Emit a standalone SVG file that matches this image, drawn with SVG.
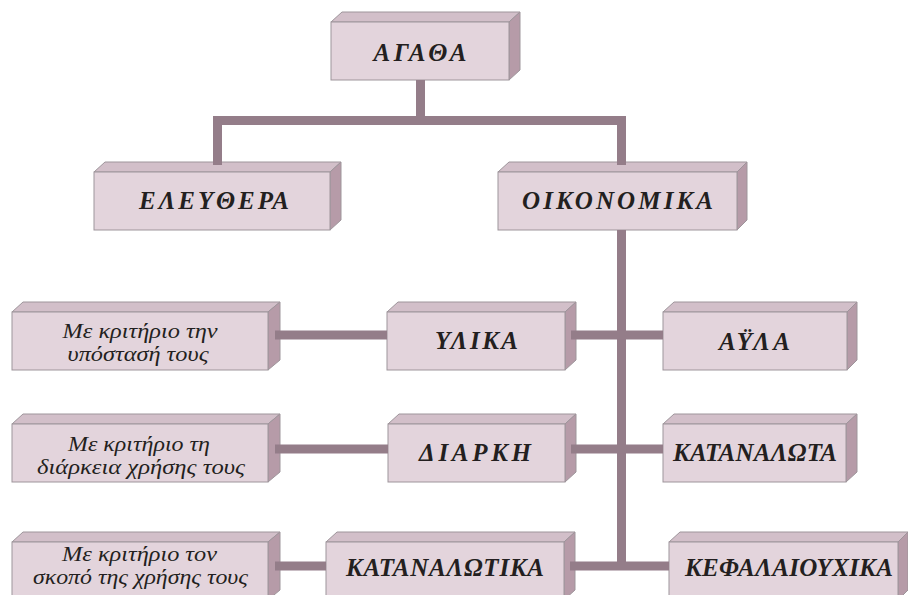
<svg xmlns="http://www.w3.org/2000/svg" width="908" height="595" viewBox="0 0 908 595">
<style>
.front{fill:#e3d4dc;stroke:#9e959b;stroke-width:1}
.top{fill:#d2bfc9;stroke:#9e959b;stroke-width:1}
.side{fill:#b69ba8;stroke:#9e959b;stroke-width:1}
.big{font-family:"Liberation Serif","DejaVu Serif",serif;font-size:25px;font-weight:bold;font-style:italic;fill:#231f20;text-anchor:middle}
.sm{font-family:"Liberation Serif","DejaVu Serif",serif;font-size:20.5px;font-style:italic;fill:#231f20;text-anchor:middle}
.conn{fill:none;stroke:#947d89;stroke-width:9;stroke-linecap:butt;stroke-linejoin:miter}
</style>
<rect width="908" height="595" fill="#ffffff"/>

<g id="agatha">
<polygon class="top" points="331,22 342,12 520,12 509,22"/>
<polygon class="side" points="509,22 520,12 520,70 509,80"/>
<rect class="front" x="331" y="22" width="178" height="58"/>
<text class="big" x="420" y="61" textLength="93" lengthAdjust="spacing">ΑΓΑΘΑ</text>
</g>

<g id="eleuthera">
<polygon class="top" points="94,172 105,162 341,162 330,172"/>
<polygon class="side" points="330,172 341,162 341,220 330,230"/>
<rect class="front" x="94" y="172" width="236" height="58"/>
<text class="big" x="214" y="209" textLength="150" lengthAdjust="spacing">ΕΛΕΥΘΕΡΑ</text>
</g>

<g id="oikonomika">
<polygon class="top" points="498,172 509,162 747,162 737,172"/>
<polygon class="side" points="737,172 747,162 747,220 737,230"/>
<rect class="front" x="498" y="172" width="239" height="58"/>
<text class="big" x="617.5" y="209" textLength="191" lengthAdjust="spacing">ΟΙΚΟΝΟΜΙΚΑ</text>
</g>

<g id="ypostasi">
<polygon class="top" points="12,312 23,302 280,302 268,312"/>
<polygon class="side" points="268,312 280,302 280,360 268,370"/>
<rect class="front" x="12" y="312" width="256" height="58"/>
<text class="sm" x="140" y="338" textLength="155" lengthAdjust="spacingAndGlyphs">Με κριτήριο την</text>
<text class="sm" x="138" y="361" textLength="141" lengthAdjust="spacingAndGlyphs">υπόστασή τους</text>
</g>

<g id="ylika">
<polygon class="top" points="387,312 398,302 576,302 565,312"/>
<polygon class="side" points="565,312 576,302 576,360 565,370"/>
<rect class="front" x="387" y="312" width="178" height="58"/>
<text class="big" x="476.5" y="349" textLength="83" lengthAdjust="spacing">ΥΛΙΚΑ</text>
</g>

<g id="ayla">
<polygon class="top" points="663,312 674,302 857,302 847,312"/>
<polygon class="side" points="847,312 857,302 857,360 847,370"/>
<rect class="front" x="663" y="312" width="184" height="58"/>
<text class="big" x="754.5" y="350" textLength="71" lengthAdjust="spacing">ΑΫΛΑ</text>
</g>

<g id="diarkeia">
<polygon class="top" points="12,424 23,414 280,414 268,424"/>
<polygon class="side" points="268,424 280,414 280,472 268,482"/>
<rect class="front" x="12" y="424" width="256" height="58"/>
<text class="sm" x="139" y="451" textLength="142" lengthAdjust="spacingAndGlyphs">Με κριτήριο τη</text>
<text class="sm" x="141" y="474" textLength="208" lengthAdjust="spacingAndGlyphs">διάρκεια χρήσης τους</text>
</g>

<g id="diarki">
<polygon class="top" points="388,424 399,414 576,414 565,424"/>
<polygon class="side" points="565,424 576,414 576,472 565,482"/>
<rect class="front" x="388" y="424" width="177" height="58"/>
<text class="big" x="475" y="461" textLength="112" lengthAdjust="spacing">ΔΙΑΡΚΗ</text>
</g>

<g id="katanalota">
<polygon class="top" points="663,424 674,414 857,414 846,424"/>
<polygon class="side" points="846,424 857,414 857,472 846,482"/>
<rect class="front" x="663" y="424" width="183" height="58"/>
<text class="big" x="755" y="461" textLength="164" lengthAdjust="spacing">ΚΑΤΑΝΑΛΩΤΑ</text>
</g>

<g id="skopos">
<polygon class="top" points="12,542 23,532 280,532 268,542"/>
<polygon class="side" points="268,542 280,532 280,590 268,600"/>
<rect class="front" x="12" y="542" width="256" height="58"/>
<text class="sm" x="139.5" y="561" textLength="155" lengthAdjust="spacingAndGlyphs">Με κριτήριο τον</text>
<text class="sm" x="140.5" y="584" textLength="215" lengthAdjust="spacingAndGlyphs">σκοπό της χρήσης τους</text>
</g>

<g id="katanalotika">
<polygon class="top" points="326,542 337,532 575,532 564,542"/>
<polygon class="side" points="564,542 575,532 575,590 564,600"/>
<rect class="front" x="326" y="542" width="238" height="58"/>
<text class="big" x="445" y="576" textLength="198" lengthAdjust="spacing">ΚΑΤΑΝΑΛΩΤΙΚΑ</text>
</g>

<g id="kefalaiouxika">
<polygon class="top" points="669,542 680,532 908,532 898,542"/>
<polygon class="side" points="898,542 908,532 908,590 898,600"/>
<rect class="front" x="669" y="542" width="229" height="58"/>
<text class="big" x="789" y="576" textLength="208" lengthAdjust="spacing">ΚΕΦΑΛΑΙΟΥΧΙΚΑ</text>
</g>

<g id="connectors">
<path class="conn" d="M420.5,80 V120.5"/>
<path class="conn" d="M217.5,165 V120.5 H621.5 V165"/>
<path class="conn" d="M621.5,230 V570"/>
<path class="conn" d="M275,335 H387"/>
<path class="conn" d="M571,335 H663"/>
<path class="conn" d="M275,449 H388"/>
<path class="conn" d="M571,449 H663"/>
<path class="conn" d="M275,566 H326"/>
<path class="conn" d="M570,566 H669"/>
</g>
</svg>
